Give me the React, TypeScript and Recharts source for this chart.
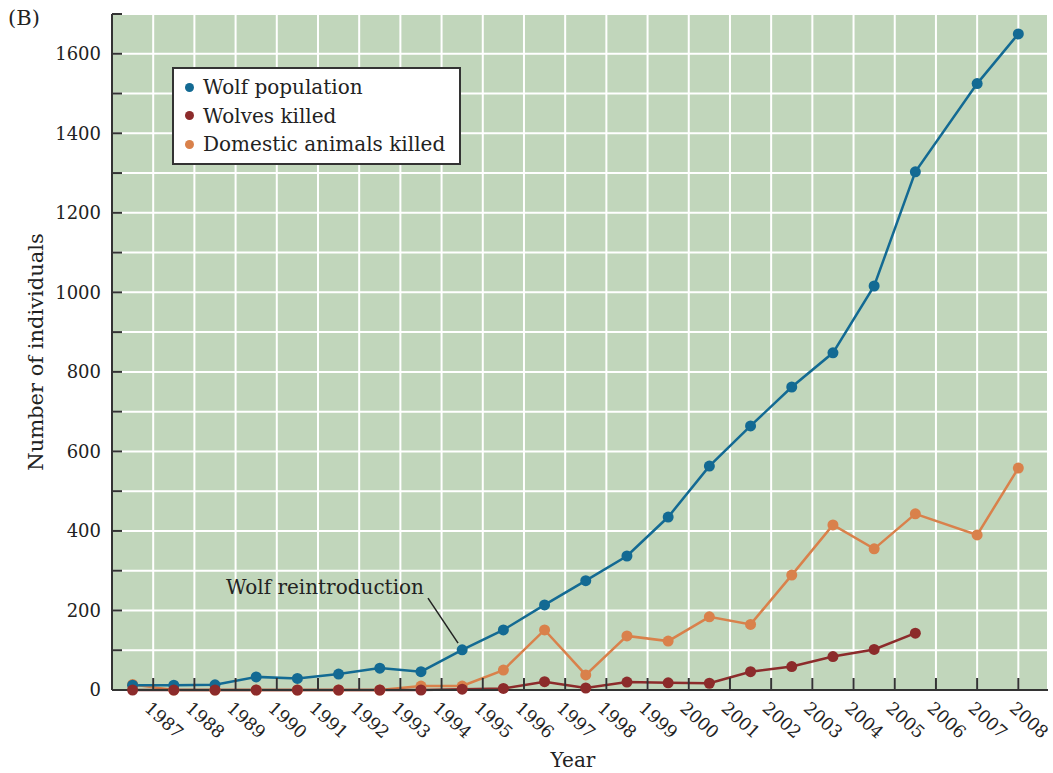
import {
  LineChart,
  Line,
  XAxis,
  YAxis,
  CartesianGrid,
  Legend,
  Label,
  ReferenceLine,
  ReferenceDot,
} from "recharts";

const years = [
  1987, 1988, 1989, 1990, 1991, 1992, 1993, 1994, 1995, 1996, 1997, 1998,
  1999, 2000, 2001, 2002, 2003, 2004, 2005, 2006, 2007, 2008,
];
const yearLabels = years.map(String);

const wolfPopulation = [
  12, 12, 13, 33, 29, 40, 55, 46, 101, 151, 214, 275, 337, 435, 563, 664, 762,
  848, 1016, 1303, 1525, 1650,
];
const wolvesKilled = [
  0, 0, 0, 0, 0, 0, 0, 0, 2, 4, 21, 5, 20, 18, 17, 46, 59, 84, 102, 143, null,
  null,
];
const domesticKilled = [
  14, 0, 0, 0, 0, 0, 0, 10, 10, 50, 151, 38, 136, 123, 184, 165, 289, 415,
  355, 443, 390, 558,
];

const yTicks = [
  0, 100, 200, 300, 400, 500, 600, 700, 800, 900, 1000, 1100, 1200, 1300,
  1400, 1500, 1600, 1700,
];
// tick marks sit on whole units; labels 1987..2008
const xTicks = years.map((_, i) => i + 1);

// in the figure the points up to 2006 sit half a step left of their tick,
// the last two sit right on their ticks
const data = years.map((year, i) => ({
  t: year <= 2006 ? i + 0.5 : i + 1,
  wolves: wolfPopulation[i],
  killed: wolvesKilled[i],
  domestic: domesticKilled[i],
}));

const BLUE = "#136a93";
const RED = "#8c2b2b";
const ORANGE = "#d9814b";
const BG = "#c1d6bb";
const AXIS = "#333";
const FONT = "'DejaVu Serif', serif";

const legendItems = [
  { label: "Wolf population", color: BLUE },
  { label: "Wolves killed", color: RED },
  { label: "Domestic animals killed", color: ORANGE },
];

function XTick(props: any) {
  const { x, y, payload } = props;
  const label = yearLabels[xTicks.indexOf(payload.value)];
  const ax = x - 1;
  const ay = y + 10;
  return (
    <g>
      <line x1={x} y1={y} x2={x} y2={y - 12} stroke={AXIS} strokeWidth={2} />
      <text
        x={ax}
        y={ay}
        dy="0.75em"
        transform={`rotate(42, ${ax}, ${ay})`}
        textAnchor="start"
        fontFamily={FONT}
        fontSize={17.5}
        fill="#222"
      >
        {label}
      </text>
    </g>
  );
}

function YTick(props: any) {
  const { x, y, payload } = props;
  const v = payload.value;
  return (
    <g>
      <line x1={x} y1={y} x2={x + 10} y2={y} stroke={AXIS} strokeWidth={2} />
      {v % 200 === 0 && v <= 1600 && (
        <text
          x={x - 11}
          y={y}
          dy="0.36em"
          textAnchor="end"
          fontFamily={FONT}
          fontSize={18}
          fill="#222"
        >
          {v}
        </text>
      )}
    </g>
  );
}

function YTitle(props: any) {
  const { x, y, height } = props.viewBox;
  const cx = x + 36;
  const cy = y + height / 2;
  return (
    <text
      x={cx}
      y={cy}
      transform={`rotate(-90, ${cx}, ${cy})`}
      textAnchor="middle"
      dominantBaseline="central"
      fontFamily={FONT}
      fontSize={21}
      fill="#222"
    >
      Number of individuals
    </text>
  );
}

function XTitle(props: any) {
  const { x, y, width } = props.viewBox;
  return (
    <text
      x={x + width / 2 - 7}
      y={y + 70}
      textAnchor="middle"
      dominantBaseline="central"
      fontFamily={FONT}
      fontSize={20}
      fill="#222"
    >
      Year
    </text>
  );
}

function LegendBox() {
  return (
    <div
      style={{
        width: 289,
        boxSizing: "border-box",
        border: `2px solid ${AXIS}`,
        background: "#fff",
        padding: "4px 10px",
        fontFamily: FONT,
        fontSize: 20,
        color: "#222",
      }}
    >
      {legendItems.map((item) => (
        <div
          key={item.label}
          style={{ display: "flex", alignItems: "center", height: 28.5 }}
        >
          <span
            style={{
              width: 9,
              height: 9,
              borderRadius: "50%",
              background: item.color,
              marginLeft: 1,
              marginRight: 9,
              flexShrink: 0,
            }}
          />
          <span style={{ whiteSpace: "nowrap" }}>{item.label}</span>
        </div>
      ))}
    </div>
  );
}

export default function App() {
  return (
    <div style={{ position: "absolute", left: 0, top: 0, width: 1053, height: 773 }}>
      <div
        style={{
          position: "absolute",
          left: 8,
          top: 5,
          fontFamily: FONT,
          fontSize: 21,
          lineHeight: "26px",
          color: "#222",
          zIndex: 2,
        }}
      >
        (B)
      </div>
      <LineChart
        width={1053}
        height={773}
        data={data}
        margin={{ top: 14, right: 5, bottom: 0, left: 0 }}
      >
        <CartesianGrid
          fill={BG}
          fillOpacity={1}
          stroke="#ffffff"
          strokeWidth={2}
        />
        <XAxis
          dataKey="t"
          type="number"
          domain={[0, 22.72]}
          ticks={xTicks}
          interval={0}
          height={83}
          tickSize={0}
          tickMargin={0}
          tick={<XTick />}
          axisLine={{ stroke: AXIS, strokeWidth: 2 }}
          allowDataOverflow
        >
          <Label content={<XTitle />} />
        </XAxis>
        <YAxis
          type="number"
          domain={[0, 1700]}
          ticks={yTicks}
          interval={0}
          width={112}
          tickSize={0}
          tickMargin={0}
          tick={<YTick />}
          axisLine={{ stroke: AXIS, strokeWidth: 2 }}
        >
          <Label content={<YTitle />} />
        </YAxis>
        <Legend
          layout="vertical"
          align="center"
          verticalAlign="middle"
          wrapperStyle={{ left: 172, top: 67, width: "auto" }}
          content={<LegendBox />}
        />
        <ReferenceLine
          segment={[
            { x: 7.67, y: 231 },
            { x: 8.4, y: 118 },
          ]}
          stroke="#222"
          strokeWidth={1.5}
        />
        <ReferenceDot
          x={5.17}
          y={259}
          r={0}
          fill="none"
          stroke="none"
          label={{
            value: "Wolf reintroduction",
            position: "center",
            fontFamily: FONT,
            fontSize: 20,
            fill: "#222",
          }}
        />
        <Line
          dataKey="domestic"
          stroke={ORANGE}
          strokeWidth={2.5}
          dot={{ r: 5.5, fill: ORANGE, stroke: ORANGE, strokeWidth: 0 }}
          isAnimationActive={false}
        />
        <Line
          dataKey="wolves"
          stroke={BLUE}
          strokeWidth={2.5}
          dot={{ r: 5.5, fill: BLUE, stroke: BLUE, strokeWidth: 0 }}
          isAnimationActive={false}
        />
        <Line
          dataKey="killed"
          stroke={RED}
          strokeWidth={2.5}
          dot={{ r: 5.5, fill: RED, stroke: RED, strokeWidth: 0 }}
          isAnimationActive={false}
        />
      </LineChart>
    </div>
  );
}
